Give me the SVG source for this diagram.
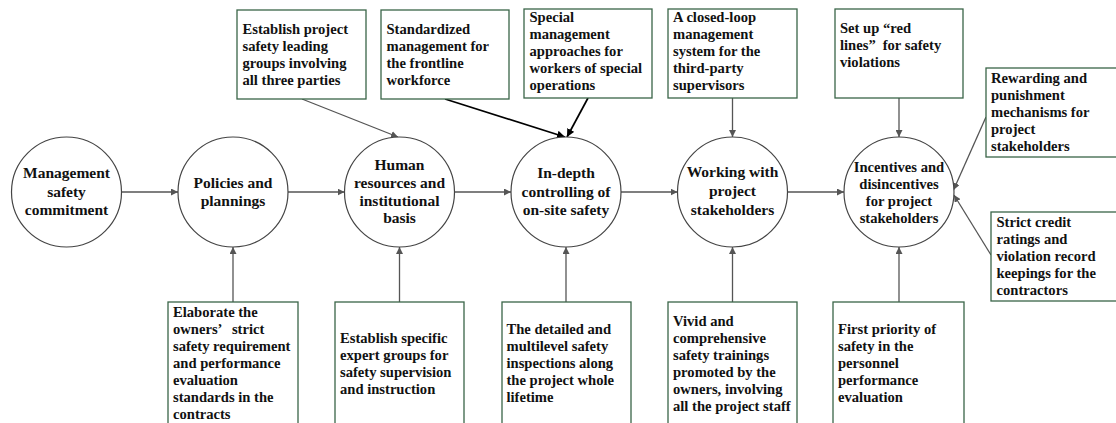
<svg xmlns="http://www.w3.org/2000/svg" width="1116" height="423" viewBox="0 0 1116 423">
<style>
.bg{fill:#fff}
.box{fill:#fff;stroke:#3a6548;stroke-width:1.3}
.circ{fill:#fff;stroke:#444;stroke-width:1.2}
.t{font-family:"Liberation Serif","Times New Roman",serif;font-weight:bold;font-size:14.6px;fill:#111}
.ct{font-family:"Liberation Serif","Times New Roman",serif;font-weight:bold;font-size:15.5px;fill:#111;text-anchor:middle}
.g{stroke:#555;stroke-width:1.3;fill:none}
.k{stroke:#000;stroke-width:1.7;fill:none}
</style>
<defs>
<marker id="ag" viewBox="0 0 10 10" refX="10" refY="5" markerWidth="7" markerHeight="7" markerUnits="userSpaceOnUse" orient="auto"><path d="M0,0 L10,5 L0,10 z" fill="#555"/></marker>
<marker id="ak" viewBox="0 0 10 10" refX="10" refY="5" markerWidth="8" markerHeight="8" markerUnits="userSpaceOnUse" orient="auto"><path d="M0,0 L10,5 L0,10 z" fill="#000"/></marker>
</defs>
<rect class="bg" x="0" y="0" width="1116" height="423"/>

<g id="connectors">
<line class="g" x1="121.5" y1="192" x2="178" y2="192" marker-end="url(#ag)"/>
<line class="g" x1="288" y1="192" x2="344.5" y2="192" marker-end="url(#ag)"/>
<line class="g" x1="454.5" y1="192" x2="511" y2="192" marker-end="url(#ag)"/>
<line class="g" x1="621" y1="192" x2="677.5" y2="192" marker-end="url(#ag)"/>
<line class="g" x1="787.5" y1="192" x2="844" y2="192" marker-end="url(#ag)"/>
<line class="g" x1="302" y1="99" x2="398" y2="137" marker-end="url(#ag)"/>
<line class="k" x1="445" y1="99" x2="565" y2="137" marker-end="url(#ak)"/>
<line class="k" x1="588" y1="98" x2="567" y2="137" marker-end="url(#ak)"/>
<line class="g" x1="732.5" y1="98" x2="732.5" y2="137" marker-end="url(#ag)"/>
<line class="g" x1="899" y1="98" x2="899" y2="137" marker-end="url(#ag)"/>
<line class="g" x1="986" y1="117" x2="953.5" y2="190" marker-end="url(#ag)"/>
<line class="g" x1="991" y1="255" x2="954" y2="195" marker-end="url(#ag)"/>
<line class="g" x1="233" y1="302" x2="233" y2="247" marker-end="url(#ag)"/>
<line class="g" x1="399.5" y1="302" x2="399.5" y2="247" marker-end="url(#ag)"/>
<line class="g" x1="566" y1="302" x2="566" y2="247" marker-end="url(#ag)"/>
<line class="g" x1="732.5" y1="302" x2="732.5" y2="247" marker-end="url(#ag)"/>
<line class="g" x1="899" y1="302" x2="899" y2="247" marker-end="url(#ag)"/>
</g>

<g id="c1"><circle class="circ" cx="66.5" cy="192" r="55"/>
<text class="ct" x="66.5" y="178">Management</text><text class="ct" x="66.5" y="197">safety</text><text class="ct" x="66.5" y="215">commitment</text></g>
<g id="c2"><circle class="circ" cx="233" cy="192" r="55"/>
<text class="ct" x="233" y="188">Policies and</text><text class="ct" x="233" y="206">plannings</text></g>
<g id="c3"><circle class="circ" cx="399.5" cy="192" r="55"/>
<text class="ct" x="399.5" y="170">Human</text><text class="ct" x="399.5" y="188">resources and</text><text class="ct" x="399.5" y="205.5">institutional</text><text class="ct" x="399.5" y="223">basis</text></g>
<g id="c4"><circle class="circ" cx="566" cy="192" r="55"/>
<text class="ct" x="566" y="178">In-depth</text><text class="ct" x="566" y="196.5">controlling of</text><text class="ct" x="566" y="215">on-site safety</text></g>
<g id="c5"><circle class="circ" cx="732.5" cy="192" r="55"/>
<text class="ct" x="732.5" y="177">Working with</text><text class="ct" x="732.5" y="196">project</text><text class="ct" x="732.5" y="215">stakeholders</text></g>
<g id="c6"><circle class="circ" cx="899" cy="192" r="55"/>
<text class="ct" style="font-size:14.6px" x="899" y="172">Incentives and</text><text class="ct" style="font-size:14.6px" x="899" y="189">disincentives</text><text class="ct" style="font-size:14.6px" x="899" y="206">for project</text><text class="ct" style="font-size:14.6px" x="899" y="223">stakeholders</text></g>

<g id="t1"><rect class="box" x="237" y="10" width="129" height="89"/>
<text class="t" x="242.5"><tspan x="242.5" y="34">Establish project</tspan><tspan x="242.5" y="51">safety leading</tspan><tspan x="242.5" y="68">groups involving</tspan><tspan x="242.5" y="85">all three parties</tspan></text></g>
<g id="t2"><rect class="box" x="381" y="10" width="128" height="89"/>
<text class="t"><tspan x="386.5" y="34">Standardized</tspan><tspan x="386.5" y="51">management for</tspan><tspan x="386.5" y="68">the frontline</tspan><tspan x="386.5" y="85">workforce</tspan></text></g>
<g id="t3"><rect class="box" x="524" y="9" width="128" height="89"/>
<text class="t"><tspan x="529.5" y="22">Special</tspan><tspan x="529.5" y="39">management</tspan><tspan x="529.5" y="56">approaches for</tspan><tspan x="529.5" y="73">workers of special</tspan><tspan x="529.5" y="90">operations</tspan></text></g>
<g id="t4"><rect class="box" x="668" y="9" width="129" height="89"/>
<text class="t"><tspan x="673" y="22">A closed-loop</tspan><tspan x="673" y="39">management</tspan><tspan x="673" y="56">system for the</tspan><tspan x="673" y="73">third-party</tspan><tspan x="673" y="90">supervisors</tspan></text></g>
<g id="t5"><rect class="box" x="835" y="9" width="128" height="89"/>
<text class="t"><tspan x="840" y="33">Set up “red</tspan><tspan x="840" y="50">lines”</tspan><tspan dx="7">for safety</tspan><tspan x="840" y="67">violations</tspan></text></g>
<g id="r1"><rect class="box" x="986" y="68" width="140" height="89"/>
<text class="t"><tspan x="991" y="83">Rewarding and</tspan><tspan x="991" y="100">punishment</tspan><tspan x="991" y="117">mechanisms for</tspan><tspan x="991" y="134">project</tspan><tspan x="991" y="151">stakeholders</tspan></text></g>
<g id="r2"><rect class="box" x="991" y="212" width="140" height="89"/>
<text class="t"><tspan x="996.5" y="227">Strict credit</tspan><tspan x="996.5" y="244">ratings and</tspan><tspan x="996.5" y="261">violation record</tspan><tspan x="996.5" y="278">keepings for the</tspan><tspan x="996.5" y="295">contractors</tspan></text></g>

<g id="b1"><rect class="box" x="168" y="302" width="130" height="140"/>
<text class="t"><tspan x="173" y="317">Elaborate the</tspan><tspan x="173" y="334">owners’</tspan><tspan dx="10">strict</tspan><tspan x="173" y="351">safety requirement</tspan><tspan x="173" y="368">and performance</tspan><tspan x="173" y="385">evaluation</tspan><tspan x="173" y="402">standards in the</tspan><tspan x="173" y="419">contracts</tspan></text></g>
<g id="b2"><rect class="box" x="335" y="302" width="129" height="140"/>
<text class="t"><tspan x="340" y="343">Establish specific</tspan><tspan x="340" y="360">expert groups for</tspan><tspan x="340" y="377">safety supervision</tspan><tspan x="340" y="394">and instruction</tspan></text></g>
<g id="b3"><rect class="box" x="502" y="302" width="129" height="140"/>
<text class="t"><tspan x="506.5" y="334">The detailed and</tspan><tspan x="506.5" y="351">multilevel safety</tspan><tspan x="506.5" y="368">inspections along</tspan><tspan x="506.5" y="385">the project whole</tspan><tspan x="506.5" y="402">lifetime</tspan></text></g>
<g id="b4"><rect class="box" x="668" y="302" width="129" height="140"/>
<text class="t"><tspan x="673" y="326">Vivid and</tspan><tspan x="673" y="343">comprehensive</tspan><tspan x="673" y="360">safety trainings</tspan><tspan x="673" y="377">promoted by the</tspan><tspan x="673" y="394">owners, involving</tspan><tspan x="673" y="411">all the project staff</tspan></text></g>
<g id="b5"><rect class="box" x="833" y="302" width="131" height="140"/>
<text class="t"><tspan x="838" y="334">First priority of</tspan><tspan x="838" y="351">safety in the</tspan><tspan x="838" y="368">personnel</tspan><tspan x="838" y="385">performance</tspan><tspan x="838" y="402">evaluation</tspan></text></g>
</svg>
